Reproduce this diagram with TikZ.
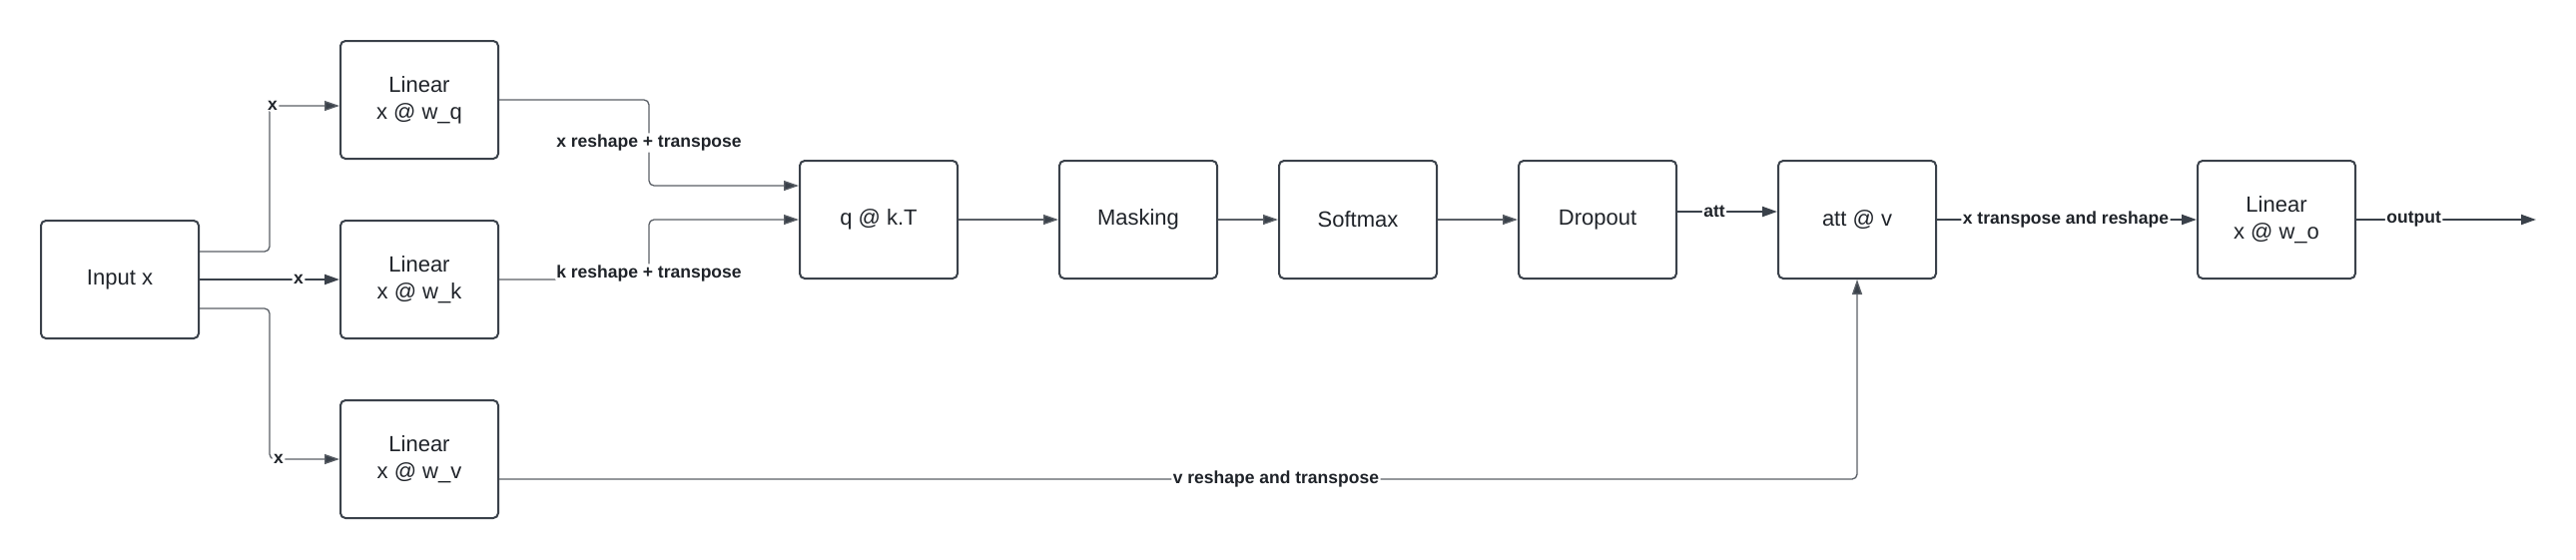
\documentclass[tikz,border=0pt]{standalone}
\usepackage{fontspec}
\setmainfont{Liberation Sans}
\usetikzlibrary{arrows.meta}
\definecolor{bord}{HTML}{3A414A}
\definecolor{conn}{HTML}{5A5F66}
\definecolor{txt}{HTML}{1F2329}
\begin{document}
\begin{tikzpicture}[x=1pt,y=-1pt,
  box/.style={draw=bord, line width=2pt, rounded corners=5pt, minimum width=158pt, minimum height=118pt,
    align=center, font=\fontsize{22}{27}\selectfont, text=txt, inner sep=0pt},
  conn/.style={draw=conn, line width=1.3pt, rounded corners=5pt, -{Triangle[length=15pt,width=10pt,fill=bord]}},
  thickconn/.style={conn, draw=bord, line width=2pt},
  lab/.style={fill=white, font=\bfseries\fontsize{17.5}{20}\selectfont, text=txt, inner sep=1.5pt}
]
\useasboundingbox (0,0) rectangle (2580,560);
\node[box] (in) at (120,280) {Input x};
\node[box] (lq) at (420,100) {Linear\\x @ w\_q};
\node[box] (lk) at (420,280) {Linear\\x @ w\_k};
\node[box] (lv) at (420,460) {Linear\\x @ w\_v};
\node[box] (qk) at (880,220) {q @ k.T};
\node[box] (mask) at (1140,220) {Masking};
\node[box] (soft) at (1360,220) {Softmax};
\node[box] (drop) at (1600,220) {Dropout};
\node[box] (att) at (1860,220) {att @ v};
\node[box] (lo) at (2280,220) {Linear\\x @ w\_o};
\coordinate (out) at (2540,220);

\draw[conn] ([yshift=28pt]in.east) -- ++(70,0) |- node[lab,pos=0.5,xshift=3pt]{x} ([yshift=-6pt]lq.west);
\draw[thickconn] (in) -- node[lab,pos=0.707]{x} (lk);
\draw[conn] ([yshift=-29pt]in.east) -- ++(70,0) |- node[lab,pos=0.5,xshift=9pt]{x} (lv.west);

\draw[conn] (lq.east) -- (650,100) -- node[lab]{x reshape + transpose} (650,186) -- (qk.west |- 0,186);
\draw[conn] (lk.east) -- (650,280) -- node[lab,pos=0.1]{k reshape + transpose} (650,220) -- (qk.west);

\draw[conn] (qk) -- (mask);
\draw[conn] (mask) -- (soft);
\draw[conn] (soft) -- (drop);
\draw[thickconn] ([yshift=8pt]drop.east) -- node[lab,pos=0.37]{att} ([yshift=8pt]att.west);
\draw[thickconn] (att) -- node[lab,pos=0.496]{x transpose and reshape} (lo);
\draw[thickconn] (lo) -- node[lab,pos=0.32]{output} (out);
\draw[conn] ([yshift=-20pt]lv.east) -| node[lab,pos=0.286]{v reshape and transpose} (att.south);
\end{tikzpicture}
\end{document}
